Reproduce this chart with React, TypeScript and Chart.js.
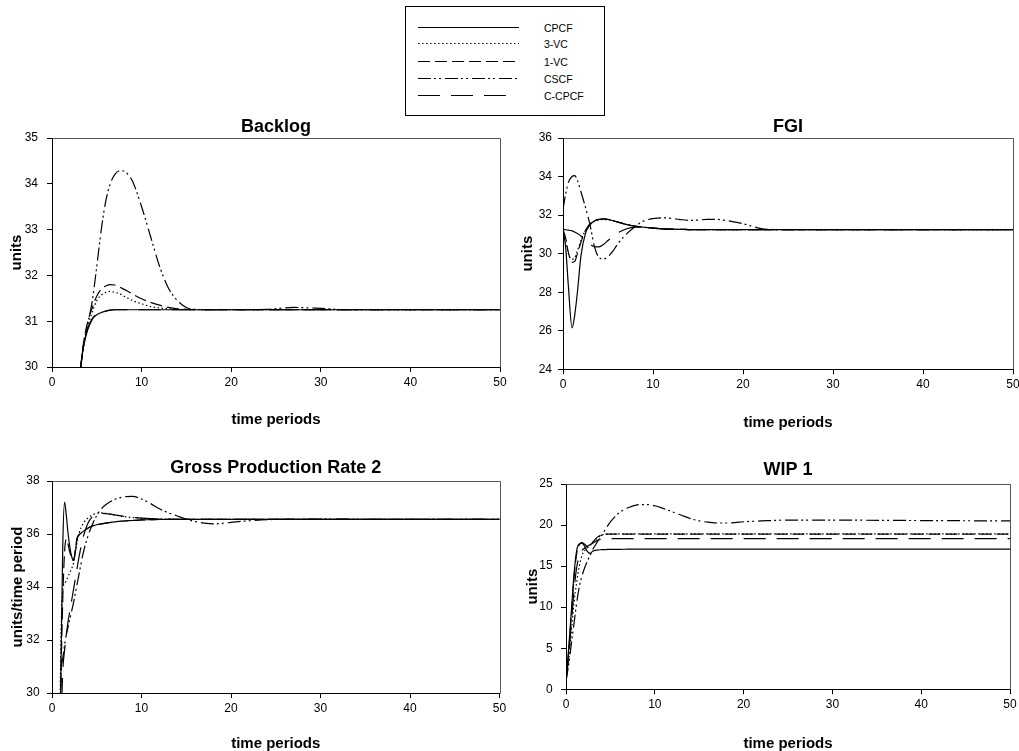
import React, { useEffect, useRef } from 'react';
import { Chart, registerables } from 'chart.js';

Chart.register(...registerables);

const FONT = "'Liberation Sans', Arial, Helvetica, sans-serif";
Chart.defaults.font.family = FONT;

// ---------- series ----------
const seriesNames = ['CPCF', '3-VC', '1-VC', 'CSCF', 'C-CPCF'];
const seriesDash: number[][] = [[], [1.5, 2.5], [12, 5], [13, 3, 2, 3, 2, 4], [22, 11]];

// ---------- Backlog ----------
const backlogTime = [3.2, 3.5, 4, 4.5, 5, 5.5, 6, 6.5, 7, 7.5, 8, 8.5, 9, 10, 11, 12, 13, 14, 15, 16, 18, 20, 24, 27, 30, 33, 40, 50];
const backlogCPCF = [30, 30.42, 30.82, 31.04, 31.14, 31.19, 31.22, 31.24, 31.25, 31.25, 31.25, 31.25, 31.25, 31.25, 31.25, 31.25, 31.25, 31.25, 31.25, 31.25, 31.25, 31.25, 31.25, 31.25, 31.25, 31.25, 31.25, 31.25];
const backlog3VC = [30, 30.5, 30.9, 31.2, 31.45, 31.57, 31.63, 31.65, 31.63, 31.6, 31.55, 31.5, 31.45, 31.38, 31.32, 31.29, 31.27, 31.26, 31.25, 31.25, 31.25, 31.25, 31.25, 31.25, 31.25, 31.25, 31.25, 31.25];
const backlog1VC = [30, 30.5, 31.0, 31.3, 31.55, 31.7, 31.77, 31.8, 31.79, 31.75, 31.7, 31.65, 31.59, 31.49, 31.41, 31.35, 31.3, 31.27, 31.26, 31.25, 31.25, 31.25, 31.25, 31.25, 31.25, 31.25, 31.25, 31.25];
const backlogCSCF = [30, 30.4, 30.95, 31.45, 32.2, 33.0, 33.62, 34.0, 34.2, 34.28, 34.28, 34.2, 34.05, 33.5, 32.85, 32.2, 31.72, 31.45, 31.3, 31.26, 31.25, 31.25, 31.26, 31.3, 31.28, 31.25, 31.25, 31.25];
const backlogCCPCF = [30, 30.45, 30.85, 31.06, 31.16, 31.2, 31.23, 31.24, 31.25, 31.25, 31.25, 31.25, 31.25, 31.25, 31.25, 31.25, 31.25, 31.25, 31.25, 31.25, 31.25, 31.25, 31.25, 31.25, 31.25, 31.25, 31.25, 31.25];

// ---------- FGI ----------
const fgiTime = [0, 0.3, 0.6, 1, 1.3, 1.6, 2, 2.5, 3, 3.5, 4, 4.5, 5, 5.5, 6, 7, 8, 9, 10, 11, 12, 13, 14, 15, 16, 17, 18, 19, 20, 21, 22, 24, 30, 40, 50];
const fgiCPCF = [31.25, 30.3, 28.3, 26.15, 26.8, 28.0, 29.9, 31.05, 31.5, 31.7, 31.77, 31.8, 31.78, 31.72, 31.65, 31.52, 31.43, 31.37, 31.32, 31.29, 31.27, 31.26, 31.25, 31.25, 31.25, 31.25, 31.25, 31.25, 31.25, 31.25, 31.25, 31.25, 31.25, 31.25, 31.25];
const fgi3VC = [31.25, 30.7, 30.0, 29.7, 29.8, 30.15, 30.7, 31.2, 31.5, 31.68, 31.75, 31.77, 31.76, 31.71, 31.65, 31.52, 31.43, 31.37, 31.32, 31.29, 31.27, 31.26, 31.25, 31.25, 31.25, 31.25, 31.25, 31.25, 31.25, 31.25, 31.25, 31.25, 31.25, 31.25, 31.25];
const fgi1VC = [31.25, 30.8, 30.05, 29.55, 29.6, 30.0, 30.6, 31.2, 31.55, 31.72, 31.78, 31.8, 31.78, 31.72, 31.65, 31.52, 31.43, 31.37, 31.32, 31.29, 31.27, 31.26, 31.25, 31.25, 31.25, 31.25, 31.25, 31.25, 31.25, 31.25, 31.25, 31.25, 31.25, 31.25, 31.25];
const fgiCSCF = [32.3, 33.1, 33.7, 34.0, 34.05, 33.8, 33.2, 32.4, 31.5, 30.35, 29.8, 29.72, 29.85, 30.1, 30.45, 31.0, 31.4, 31.7, 31.82, 31.86, 31.83, 31.77, 31.73, 31.74, 31.78, 31.78, 31.73, 31.65, 31.55, 31.42, 31.3, 31.25, 31.25, 31.25, 31.25];
const fgiCCPCF = [31.25, 31.24, 31.22, 31.18, 31.12, 31.05, 30.92, 30.72, 30.5, 30.36, 30.35, 30.48, 30.68, 30.88, 31.05, 31.28, 31.38, 31.36, 31.32, 31.29, 31.27, 31.26, 31.25, 31.25, 31.25, 31.25, 31.25, 31.25, 31.25, 31.25, 31.25, 31.25, 31.25, 31.25, 31.25];

// ---------- Gross Production Rate 2 ----------
const gprTime = [0.85, 1, 1.2, 1.4, 1.6, 1.8, 2, 2.2, 2.4, 2.6, 2.8, 3, 3.5, 4, 4.5, 5, 5.5, 6, 7, 8, 9, 10, 11, 12, 13, 14, 15, 16, 17, 18, 19, 20, 22, 25, 30, 40, 50];
const gprCPCF = [27, 31, 35.5, 37.2, 36.7, 36.0, 35.5, 35.15, 35.0, 35.3, 35.8, 35.95, 36.1, 36.22, 36.3, 36.35, 36.38, 36.41, 36.46, 36.49, 36.51, 36.53, 36.54, 36.55, 36.55, 36.55, 36.55, 36.55, 36.55, 36.55, 36.55, 36.55, 36.55, 36.55, 36.55, 36.55, 36.55];
const gpr3VC = [28, 32.0, 33.9, 34.1, 34.25, 34.4, 34.55, 34.7, 34.9, 35.3, 35.7, 36.0, 36.4, 36.6, 36.72, 36.78, 36.8, 36.78, 36.72, 36.66, 36.62, 36.6, 36.58, 36.57, 36.56, 36.55, 36.55, 36.55, 36.55, 36.55, 36.55, 36.55, 36.55, 36.55, 36.55, 36.55, 36.55];
const gpr1VC = [27, 30.5, 33.5, 35.3, 35.8, 35.6, 35.3, 35.1, 35.0, 35.4, 35.85, 35.97, 36.1, 36.22, 36.3, 36.35, 36.38, 36.41, 36.46, 36.49, 36.51, 36.53, 36.54, 36.55, 36.55, 36.55, 36.55, 36.55, 36.55, 36.55, 36.55, 36.55, 36.55, 36.55, 36.55, 36.55, 36.55];
const gprCSCF = [27, 30.6, 31.3, 31.8, 32.2, 32.5, 32.8, 33.1, 33.4, 33.75, 34.1, 34.45, 35.3, 35.9, 36.35, 36.7, 36.95, 37.1, 37.3, 37.4, 37.42, 37.32, 37.15, 36.95, 36.8, 36.68, 36.56, 36.47, 36.41, 36.38, 36.4, 36.44, 36.5, 36.55, 36.56, 36.55, 36.55];
const gprCCPCF = [26, 28.5, 30.8, 31.6, 32.2, 32.7, 33.1, 33.5, 33.9, 34.3, 34.7, 35.1, 35.9, 36.4, 36.65, 36.75, 36.78, 36.77, 36.72, 36.67, 36.63, 36.6, 36.58, 36.57, 36.56, 36.55, 36.55, 36.55, 36.55, 36.55, 36.55, 36.55, 36.55, 36.55, 36.55, 36.55, 36.55];

// ---------- WIP 1 ----------
const wipTime = [0, 0.3, 0.6, 0.9, 1.2, 1.5, 1.8, 2.1, 2.4, 2.7, 3, 3.5, 4, 4.5, 5, 5.5, 6, 7, 8, 9, 10, 11, 12, 13, 14, 15, 16, 17, 18, 19, 20, 22, 25, 30, 40, 50];
const wipCPCF = [1, 5, 9.5, 14, 16.9, 17.7, 17.8, 17.4, 16.8, 16.55, 16.8, 16.95, 17.0, 17.02, 17.04, 17.05, 17.05, 17.06, 17.06, 17.07, 17.07, 17.07, 17.07, 17.07, 17.07, 17.07, 17.07, 17.07, 17.07, 17.07, 17.07, 17.07, 17.07, 17.07, 17.07, 17.07];
const wip3VC = [1, 3.5, 7, 10.5, 13, 15, 16.3, 16.9, 17.2, 17.5, 17.9, 18.4, 18.75, 18.9, 18.92, 18.92, 18.92, 18.92, 18.92, 18.92, 18.92, 18.92, 18.92, 18.92, 18.92, 18.92, 18.92, 18.92, 18.92, 18.92, 18.92, 18.92, 18.92, 18.92, 18.92, 18.92];
const wip1VC = [1, 4.5, 9, 13.5, 16.5, 17.6, 17.85, 17.65, 17.4, 17.5, 17.9, 18.5, 18.8, 18.9, 18.9, 18.9, 18.9, 18.9, 18.9, 18.9, 18.9, 18.9, 18.9, 18.9, 18.9, 18.9, 18.9, 18.9, 18.9, 18.9, 18.9, 18.9, 18.9, 18.9, 18.9, 18.9];
const wipCSCF = [1, 3, 5.5, 8, 10.5, 12.5, 13.8, 14.8, 15.6, 16.3, 17.0, 17.9, 18.7, 19.6, 20.4, 21.0, 21.5, 22.1, 22.45, 22.5, 22.35, 22.0, 21.6, 21.2, 20.8, 20.5, 20.35, 20.25, 20.25, 20.3, 20.4, 20.5, 20.6, 20.6, 20.55, 20.5];
const wipCCPCF = [1, 4, 8, 12, 14.8, 16.2, 16.9, 17.2, 17.4, 17.6, 17.8, 18.1, 18.3, 18.35, 18.36, 18.36, 18.36, 18.36, 18.36, 18.36, 18.36, 18.36, 18.36, 18.36, 18.36, 18.36, 18.36, 18.36, 18.36, 18.36, 18.36, 18.36, 18.36, 18.36, 18.36, 18.36];

// ---------- axis ticks ----------
const xTicks = { min: 0, max: 50, step: 10 };
const backlogY = { min: 30, max: 35, step: 1 };
const fgiY = { min: 24, max: 36, step: 2 };
const gprY = { min: 30, max: 38, step: 2 };
const wipY = { min: 0, max: 25, step: 5 };

// ---------- panels (layout) ----------
const panels = [
  {
    key: 'backlog', title: 'Backlog', yLabel: 'units', time: backlogTime,
    values: [backlogCPCF, backlog3VC, backlog1VC, backlogCSCF, backlogCCPCF], y: backlogY,
    box: { left: 0, top: 110, width: 520, height: 320 },
    pad: { top: 5.9, right: 20 }, yWidth: 52, xHeight: 63, titlePadB: 0.5,
    yTitlePad: 9.2, yTickPad: 9, xTitlePad: 2.5,
  },
  {
    key: 'fgi', title: 'FGI', yLabel: 'units', time: fgiTime,
    values: [fgiCPCF, fgi3VC, fgi1VC, fgiCSCF, fgiCCPCF], y: fgiY,
    box: { left: 510, top: 110, width: 509, height: 320 },
    pad: { top: 5.9, right: 6 }, yWidth: 53, xHeight: 60.7, titlePadB: 0.5,
    yTitlePad: 10.5, yTickPad: 6, xTitlePad: 0,
  },
  {
    key: 'gpr', title: 'Gross Production Rate 2', yLabel: 'units/time period', time: gprTime,
    values: [gprCPCF, gpr3VC, gpr1VC, gprCSCF, gprCCPCF], y: gprY,
    box: { left: 0, top: 440, width: 520, height: 311 },
    pad: { top: 17.5, right: 20.5 }, yWidth: 52, xHeight: 58, titlePadB: 1.9,
    yTitlePad: 10.8, yTickPad: 7.4, xTitlePad: 0,
  },
  {
    key: 'wip', title: 'WIP 1', yLabel: 'units', time: wipTime,
    values: [wipCPCF, wip3VC, wip1VC, wipCSCF, wipCCPCF], y: wipY,
    box: { left: 510, top: 440, width: 509, height: 311 },
    pad: { top: 19.2, right: 9 }, yWidth: 56, xHeight: 61.7, titlePadB: 3.2,
    yTitlePad: 15.5, yTickPad: 8.3, xTitlePad: 0,
  },
];

const frameLines = {
  id: 'frameLines',
  afterDatasetsDraw(chart: any) {
    const { ctx, chartArea: a } = chart;
    const l = Math.round(a.left) + 0.5;
    const t = Math.round(a.top) + 0.5;
    const r = Math.round(a.right) + 0.5;
    const b = Math.round(a.bottom) + 0.5;
    ctx.save();
    ctx.strokeStyle = '#555';
    ctx.lineWidth = 1;
    ctx.setLineDash([]);
    ctx.beginPath();
    ctx.moveTo(l, t);
    ctx.lineTo(r, t);
    ctx.lineTo(r, b);
    ctx.stroke();
    ctx.restore();
  },
};

function Panel({ p }: { p: any }) {
  const ref = useRef<HTMLCanvasElement>(null);
  useEffect(() => {
    if (!ref.current) return;
    const datasets = seriesNames.map((name, i) => ({
      label: name,
      data: p.time.map((t: number, j: number) => ({ x: t, y: p.values[i][j] })),
      borderColor: '#000',
      backgroundColor: '#000',
      borderWidth: 1.2,
      borderDash: seriesDash[i],
      pointRadius: 0,
      pointHoverRadius: 0,
      fill: false,
      cubicInterpolationMode: 'monotone' as const,
    }));
    const chart = new Chart(ref.current, {
      type: 'line',
      data: { datasets },
      plugins: [frameLines],
      options: {
        responsive: false,
        animation: false,
        devicePixelRatio: 1,
        events: [],
        layout: { autoPadding: false, padding: { top: p.pad.top, right: p.pad.right, left: 0, bottom: 0 } },
        plugins: {
          legend: { display: false },
          tooltip: { enabled: false },
          title: {
            display: true,
            text: p.title,
            fullSize: false,
            color: '#000',
            font: { family: FONT, size: 18, weight: 'bold', lineHeight: 1.2 },
            padding: { top: 0, bottom: p.titlePadB },
          },
        },
        scales: {
          x: {
            type: 'linear',
            position: 'bottom',
            min: xTicks.min,
            max: xTicks.max,
            ticks: { stepSize: xTicks.step, color: '#000', font: { family: FONT, size: 12 }, padding: 3, maxRotation: 0 },
            grid: { drawOnChartArea: false, drawTicks: true, tickLength: 5, color: '#000' },
            border: { display: true, color: '#000', width: 1 },
            title: {
              display: true, text: 'time periods', color: '#000',
              font: { family: FONT, size: 15, weight: 'bold', lineHeight: 1 },
              padding: { top: 0, bottom: p.xTitlePad },
            },
            afterFit: (s: any) => { s.height = p.xHeight; s.paddingLeft = 0; s.paddingRight = 0; },
          },
          y: {
            type: 'linear',
            position: 'left',
            min: p.y.min,
            max: p.y.max,
            ticks: { stepSize: p.y.step, color: '#000', font: { family: FONT, size: 12 }, padding: p.yTickPad },
            grid: { drawOnChartArea: false, drawTicks: true, tickLength: 5, color: '#000' },
            border: { display: true, color: '#000', width: 1 },
            title: {
              display: true, text: p.yLabel, color: '#000',
              font: { family: FONT, size: 15, weight: 'bold', lineHeight: 1 },
              padding: { top: p.yTitlePad, bottom: 0 },
            },
            afterFit: (s: any) => { s.width = p.yWidth; s.paddingTop = 0; s.paddingBottom = 0; },
          },
        },
      } as any,
    });
    return () => chart.destroy();
  }, []);
  return (
    <canvas
      ref={ref}
      width={p.box.width}
      height={p.box.height}
      style={{ position: 'absolute', left: p.box.left, top: p.box.top, width: p.box.width, height: p.box.height }}
    />
  );
}

const legendRowY = [21.5, 37.5, 55.5, 72.5, 89.5];

function Legend() {
  return (
    <svg
      width={200}
      height={110}
      style={{ position: 'absolute', left: 405, top: 6 }}
    >
      <rect x={0.5} y={0.5} width={199} height={109} fill="#fff" stroke="#000" strokeWidth={1} />
      {seriesNames.map((n, i) => (
        <g key={n}>
          <line
            x1={13}
            x2={i === 4 ? 105 : 114}
            y1={legendRowY[i]}
            y2={legendRowY[i]}
            stroke="#000"
            strokeWidth={1.2}
            strokeDasharray={seriesDash[i].length ? seriesDash[i].join(' ') : undefined}
          />
          <text x={139} y={legendRowY[i]} dominantBaseline="central" fontFamily={FONT} fontSize={10.5} fill="#000">
            {n}
          </text>
        </g>
      ))}
    </svg>
  );
}

export default function App() {
  return (
    <div
      style={{
        position: 'absolute', left: 0, top: 0, width: 1019, height: 751,
        overflow: 'hidden', background: '#fff', fontFamily: FONT,
      }}
    >
      {panels.map((p) => (
        <Panel key={p.key} p={p} />
      ))}
      <Legend />
    </div>
  );
}
